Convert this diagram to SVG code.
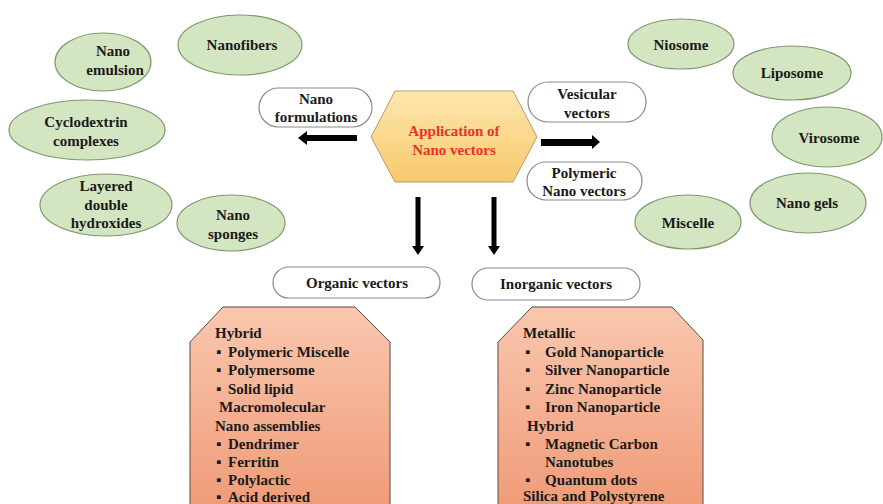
<svg xmlns="http://www.w3.org/2000/svg" width="883" height="504" viewBox="0 0 883 504">
<defs>
<linearGradient id="hexg" x1="0" y1="0" x2="0" y2="1"><stop offset="0" stop-color="#fde7ae"/><stop offset="1" stop-color="#f8c96c"/></linearGradient>
<linearGradient id="boxg" x1="0" y1="0" x2="0" y2="1"><stop offset="0" stop-color="#f9c7ae"/><stop offset="1" stop-color="#f09b78"/></linearGradient>
<style>
text{font-family:"Liberation Serif","Times New Roman",serif;font-weight:bold;font-size:15px;fill:#1a1a1a}
.c{text-anchor:middle}
.ell{fill:#d3e6c1;stroke:#7e9870;stroke-width:1.2}
.pill{fill:#ffffff;stroke:#8a8a8a;stroke-width:1.2}
.box{fill:url(#boxg);stroke:#5a4a44;stroke-width:1}
.arr{fill:#000000}
.red{fill:#e8322a}
</style>
</defs>
<rect width="883" height="504" fill="#ffffff"/>

<g id="center">
<polygon points="371,137 395,91 513,91 537,137 513,182 395,182" fill="url(#hexg)" stroke="#b89a6a" stroke-width="1"/>
<text class="c red" x="454" y="136">Application  of</text>
<text class="c red" x="454" y="155">Nano vectors</text>
</g>

<g id="nano-formulations"><rect class="pill" x="259" y="88" width="113" height="39" rx="19.5"/><text class="c" x="316" y="104">Nano</text><text class="c" x="316" y="122">formulations</text></g>
<g id="vesicular"><rect class="pill" x="528" y="82" width="118" height="40" rx="20"/><text class="c" x="587" y="99">Vesicular</text><text class="c" x="587" y="118">vectors</text></g>
<g id="polymeric"><rect class="pill" x="527" y="162" width="115" height="38" rx="19"/><text class="c" x="584" y="178">Polymeric</text><text class="c" x="584" y="196">Nano vectors</text></g>
<g id="organic"><rect class="pill" x="273" y="267" width="167" height="31" rx="15.5"/><text class="c" x="357" y="288">Organic  vectors</text></g>
<g id="inorganic"><rect class="pill" x="472" y="268" width="168" height="32" rx="16"/><text class="c" x="556" y="289">Inorganic  vectors</text></g>

<g id="nano-emulsion"><ellipse class="ell" cx="103" cy="62" rx="48" ry="29"/><text class="c" x="113" y="56">Nano</text><text class="c" x="115" y="75">emulsion</text></g>
<g id="nanofibers"><ellipse class="ell" cx="240" cy="45" rx="62" ry="30"/><text class="c" x="242" y="50">Nanofibers</text></g>
<g id="cyclodextrin"><ellipse class="ell" cx="87" cy="130" rx="78" ry="30"/><text class="c" x="86" y="127">Cyclodextrin</text><text class="c" x="86" y="146">complexes</text></g>
<g id="layered"><ellipse class="ell" cx="106" cy="205" rx="66" ry="31"/><text class="c" x="106" y="191">Layered</text><text class="c" x="106" y="210">double</text><text class="c" x="106" y="228">hydroxides</text></g>
<g id="nano-sponges"><ellipse class="ell" cx="231" cy="223" rx="54" ry="28"/><text class="c" x="233" y="220">Nano</text><text class="c" x="233" y="239">sponges</text></g>

<g id="niosome"><ellipse class="ell" cx="681" cy="44" rx="53" ry="25"/><text class="c" x="681" y="50">Niosome</text></g>
<g id="liposome"><ellipse class="ell" cx="792" cy="73" rx="59" ry="27"/><text class="c" x="792" y="78">Liposome</text></g>
<g id="virosome"><ellipse class="ell" cx="827" cy="137" rx="55" ry="30"/><text class="c" x="829" y="143">Virosome</text></g>
<g id="nano-gels"><ellipse class="ell" cx="808" cy="203" rx="58" ry="30"/><text class="c" x="807" y="208">Nano gels</text></g>
<g id="miscelle"><ellipse class="ell" cx="688" cy="222" rx="53" ry="27"/><text class="c" x="688" y="228">Miscelle</text></g>

<g id="connectors">
<polygon class="arr" points="357,135 307,135 307,131 298,138 307,145 307,141 357,141"/>
<polygon class="arr" points="541,139 592,139 592,135 600,142 592,149 592,146 541,146"/>
<polygon class="arr" points="415.5,197 420.5,197 420.5,246 424,246 418,255 412,246 415.5,246"/>
<polygon class="arr" points="491.5,197 496.5,197 496.5,246 500,246 494,255 488,246 491.5,246"/>
</g>

<g id="organic-box">
<polygon class="box" points="190,342 223,307 355,307 390,342 390,510 190,510"/>
<text x="215" y="338">Hybrid</text>
<text x="216" y="357">▪</text><text x="228" y="357">Polymeric  Miscelle</text>
<text x="216" y="375">▪</text><text x="228" y="375">Polymersome</text>
<text x="216" y="394">▪</text><text x="228" y="394">Solid  lipid</text>
<text x="219" y="412">Macromolecular</text>
<text x="215" y="431">Nano assemblies</text>
<text x="216" y="449">▪</text><text x="228" y="449">Dendrimer</text>
<text x="216" y="467">▪</text><text x="228" y="467">Ferritin</text>
<text x="216" y="485">▪</text><text x="228" y="485">Polylactic</text>
<text x="216" y="502">▪</text><text x="228" y="502">Acid derived</text>
</g>

<g id="inorganic-box">
<polygon class="box" points="498,342 532,307 672,307 703,340 703,510 498,510"/>
<text x="523" y="338">Metallic</text>
<text x="525" y="357">▪</text><text x="545" y="357">Gold  Nanoparticle</text>
<text x="525" y="375">▪</text><text x="545" y="375">Silver  Nanoparticle</text>
<text x="525" y="394">▪</text><text x="545" y="394">Zinc  Nanoparticle</text>
<text x="525" y="412">▪</text><text x="545" y="412">Iron  Nanoparticle</text>
<text x="527" y="431">Hybrid</text>
<text x="525" y="449">▪</text><text x="545" y="449">Magnetic  Carbon</text>
<text x="545" y="467">Nanotubes</text>
<text x="525" y="485">▪</text><text x="545" y="485">Quantum  dots</text>
<text x="523" y="501">Silica and Polystyrene</text>
</g>
</svg>
